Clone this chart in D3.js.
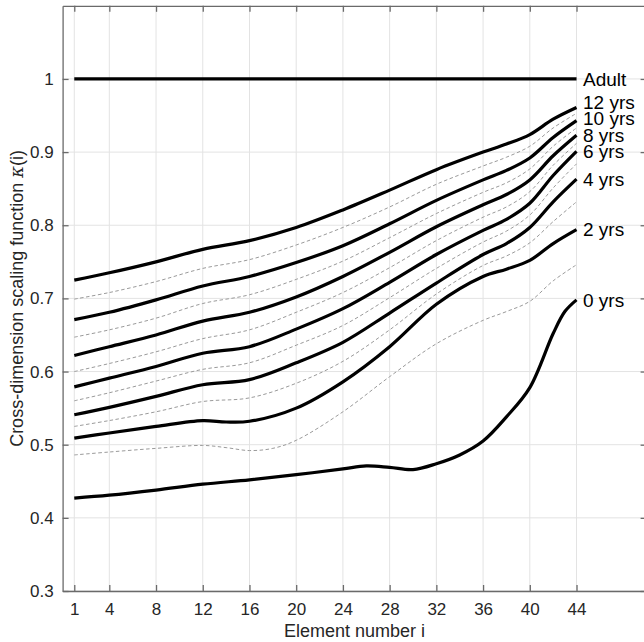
<!DOCTYPE html>
<html>
<head>
<meta charset="utf-8">
<script src="https://cdn.jsdelivr.net/npm/d3@7/dist/d3.min.js"></script>
<style>
  html, body { margin: 0; padding: 0; background: #fff; }
  svg { display: block; font-family: "Liberation Sans", Arial, Helvetica, sans-serif; }
</style>
</head>
<body>
<svg id="chart" width="644" height="642"></svg>
<script>
// ---------- data ----------
const xTicks = [1, 4, 8, 12, 16, 20, 24, 28, 32, 36, 40, 44];
const yTicks = [0.3, 0.4, 0.5, 0.6, 0.7, 0.8, 0.9, 1];

const xStd = [1, 4, 8, 12, 16, 20, 24, 28, 32, 36, 38, 40, 42, 44];

const adultX = [1, 44];
const adult  = [1, 1];

const yrs12 = [0.725, 0.735, 0.750, 0.767, 0.779, 0.797, 0.821, 0.848, 0.876, 0.900, 0.911, 0.924, 0.945, 0.961];
const yrs10 = [0.671, 0.681, 0.698, 0.717, 0.730, 0.749, 0.772, 0.802, 0.834, 0.862, 0.875, 0.892, 0.920, 0.943];
const yrs8  = [0.622, 0.634, 0.650, 0.669, 0.681, 0.702, 0.730, 0.763, 0.798, 0.828, 0.842, 0.862, 0.895, 0.923];
const yrs6  = [0.579, 0.591, 0.607, 0.625, 0.634, 0.658, 0.686, 0.722, 0.760, 0.793, 0.808, 0.830, 0.868, 0.901];
const yrs4  = [0.541, 0.551, 0.566, 0.582, 0.589, 0.612, 0.640, 0.680, 0.721, 0.760, 0.775, 0.797, 0.832, 0.863];

const yrs2X = [1, 4, 8, 12, 14, 16, 20, 24, 28, 32, 36, 38, 40, 42, 44];
const yrs2  = [0.509, 0.516, 0.525, 0.533, 0.531, 0.532, 0.550, 0.586, 0.634, 0.692, 0.730, 0.740, 0.752, 0.775, 0.794];

const yrs0X = [1, 4, 8, 12, 16, 20, 24, 26, 28, 30, 32, 34, 36, 38, 40, 42, 43, 44];
const yrs0  = [0.427, 0.431, 0.438, 0.446, 0.452, 0.459, 0.467, 0.471, 0.469, 0.466, 0.474, 0.486, 0.505, 0.538, 0.578, 0.652, 0.682, 0.698];

// intermediate ages (dashed)
const yrs11 = [0.699, 0.708, 0.723, 0.741, 0.753, 0.773, 0.797, 0.825, 0.856, 0.881, 0.893, 0.908, 0.933, 0.953];
const yrs9  = [0.647, 0.657, 0.673, 0.693, 0.705, 0.726, 0.751, 0.783, 0.816, 0.845, 0.858, 0.877, 0.908, 0.933];
const yrs7  = [0.600, 0.611, 0.627, 0.645, 0.657, 0.681, 0.708, 0.742, 0.779, 0.811, 0.825, 0.846, 0.882, 0.912];
const yrs5  = [0.560, 0.571, 0.587, 0.603, 0.612, 0.636, 0.663, 0.701, 0.741, 0.777, 0.792, 0.814, 0.851, 0.884];
const yrs3  = [0.525, 0.533, 0.545, 0.559, 0.564, 0.584, 0.614, 0.657, 0.706, 0.745, 0.758, 0.776, 0.805, 0.832];
const yrs1X = [1, 4, 8, 12, 14, 16, 18, 20, 24, 28, 32, 36, 38, 40, 42, 44];
const yrs1  = [0.486, 0.490, 0.495, 0.499, 0.496, 0.492, 0.495, 0.506, 0.545, 0.593, 0.638, 0.670, 0.682, 0.696, 0.724, 0.746];

const solidSeries = [
  { label: "Adult",  xs: adultX, ys: adult },
  { label: "12 yrs", xs: xStd,   ys: yrs12 },
  { label: "10 yrs", xs: xStd,   ys: yrs10 },
  { label: "8 yrs",  xs: xStd,   ys: yrs8 },
  { label: "6 yrs",  xs: xStd,   ys: yrs6 },
  { label: "4 yrs",  xs: xStd,   ys: yrs4 },
  { label: "2 yrs",  xs: yrs2X,  ys: yrs2 },
  { label: "0 yrs",  xs: yrs0X,  ys: yrs0 }
];
const dashedSeries = [
  { xs: xStd, ys: yrs11 },
  { xs: xStd, ys: yrs9 },
  { xs: xStd, ys: yrs7 },
  { xs: xStd, ys: yrs5 },
  { xs: xStd, ys: yrs3 },
  { xs: yrs1X, ys: yrs1 }
];

// ---------- layout ----------
const svg = d3.select("#chart");
const pLeft = 62.6, pRight = 646.6, pTop = 5.8, pBottom = 591;
const x = d3.scaleLinear().domain([0, 50]).range([pLeft, pRight]);
const y = d3.scaleLinear().domain([0.3, 1.1]).range([pBottom, pTop]);

const gridColor = "#e3e3e3";
const axisColor = "#6a6a6a";
const textColor = "#262626";

// grid
const grid = svg.append("g");
grid.selectAll("line.vx").data(xTicks).join("line")
  .attr("x1", d => x(d)).attr("x2", d => x(d))
  .attr("y1", pTop).attr("y2", pBottom)
  .attr("stroke", gridColor).attr("stroke-width", 1);
grid.selectAll("line.hy").data(yTicks).join("line")
  .attr("y1", d => y(d)).attr("y2", d => y(d))
  .attr("x1", pLeft).attr("x2", pRight)
  .attr("stroke", gridColor).attr("stroke-width", 1);

// lines
const line = d3.line().curve(d3.curveCatmullRom.alpha(0.5));
const pts = s => s.xs.map((xv, i) => [x(xv), y(s.ys[i])]);

svg.append("g").selectAll("path").data(dashedSeries).join("path")
  .attr("d", s => line(pts(s)))
  .attr("fill", "none")
  .attr("stroke", "#9a9a9a")
  .attr("stroke-width", 1)
  .attr("stroke-dasharray", "3.5,2.5");

svg.append("g").selectAll("path").data(solidSeries).join("path")
  .attr("d", s => line(pts(s)))
  .attr("fill", "none")
  .attr("stroke", "#000")
  .attr("stroke-width", 3.2)
  .attr("stroke-linejoin", "round");

// axes
const xAxisB = d3.axisBottom(x).tickValues(xTicks).tickSizeInner(-6).tickSizeOuter(0).tickPadding(12);
const yAxisL = d3.axisLeft(y).tickValues(yTicks).tickSizeInner(-6).tickSizeOuter(0).tickPadding(9)
  .tickFormat(d3.format("~g"));

const gx = svg.append("g").attr("transform", `translate(0,${pBottom})`).call(xAxisB);
const gy = svg.append("g").attr("transform", `translate(${pLeft},0)`).call(yAxisL);
const gxt = svg.append("g").attr("transform", `translate(0,${pTop})`)
  .call(d3.axisTop(x).tickValues(xTicks).tickSizeInner(-6).tickSizeOuter(0).tickFormat(""));
const gyr = svg.append("g").attr("transform", `translate(${pRight},0)`)
  .call(d3.axisRight(y).tickValues(yTicks).tickSizeInner(-6).tickSizeOuter(0).tickFormat(""));

[gx, gy, gxt, gyr].forEach(g => {
  g.select(".domain").attr("stroke", axisColor).attr("stroke-width", 1.3);
  g.selectAll(".tick line").attr("stroke", axisColor).attr("stroke-width", 1.3);
  g.selectAll(".tick text").attr("fill", textColor)
    .style("font-size", "17px")
    .style("font-family", '"Liberation Sans", Arial, sans-serif');
});

// series labels (pushed apart upward to avoid overlap)
const labelData = solidSeries.map(s => ({ label: s.label, py: y(s.ys[s.ys.length - 1]) }));
labelData.sort((a, b) => b.py - a.py);
const minGap = 16.5;
for (let i = 1; i < labelData.length; i++) {
  const below = labelData[i - 1];
  if (below.py - labelData[i].py < minGap) labelData[i].py = below.py - minGap;
}
svg.append("g").selectAll("text").data(labelData).join("text")
  .attr("x", x(44) + 6.5)
  .attr("y", d => d.py)
  .attr("dy", "0.35em")
  .attr("fill", "#000")
  .style("font-size", "19px")
  .text(d => d.label);

// axis titles
svg.append("text")
  .attr("x", (pLeft + pRight) / 2).attr("y", 637)
  .attr("text-anchor", "middle")
  .attr("fill", textColor)
  .style("font-size", "18px")
  .text("Element number i");

const yt = svg.append("text")
  .attr("transform", `translate(23,${(pTop + pBottom) / 2}) rotate(-90)`)
  .attr("text-anchor", "middle")
  .attr("fill", textColor)
  .style("font-size", "18px");
yt.append("tspan").text("Cross-dimension scaling function ");
yt.append("tspan").attr("font-style", "italic").attr("font-family", '"DejaVu Serif", serif').text("κ");
yt.append("tspan").text("(i)");
</script>
</body>
</html>
